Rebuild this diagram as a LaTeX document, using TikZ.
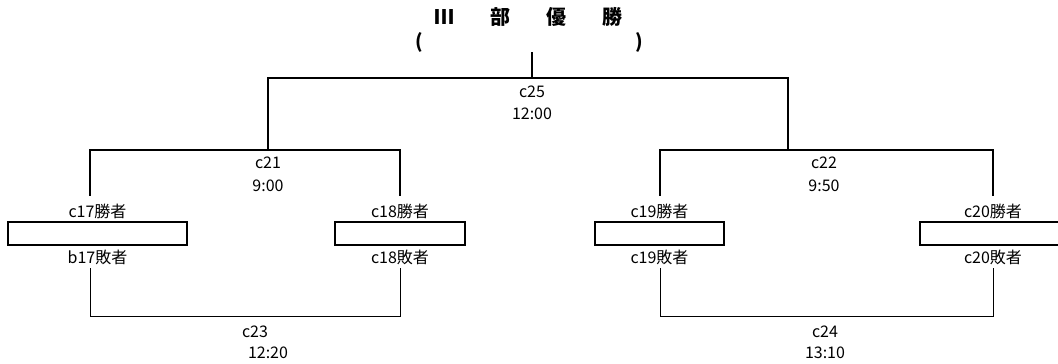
\documentclass[tikz,border=0pt]{standalone}
\usepackage{fontspec}
\setmainfont{Noto Sans CJK JP}
\begin{document}
\begin{tikzpicture}[x=1pt,y=-1pt,
	every node/.style={font=\fontsize{16}{19}\selectfont,inner sep=0pt},
	bracket/.style={line width=1.5pt},
	thinline/.style={line width=0.8pt},
	slot/.style={draw,line width=1.4pt,minimum height=23pt},
	win/.style={label distance=2.5pt},
	lose/.style={label distance=4.5pt}]

	\useasboundingbox (0,0) rectangle (1058,364);

	\node[font=\fontsize{20}{24}\selectfont\bfseries](title) at (528,17) {Ⅲ\hspace{36pt}部\hspace{36pt}優\hspace{36pt}勝};
	\node[font=\fontsize{19}{23}\selectfont\bfseries](winner) at (529,42) {(\hspace{212pt})};

	\coordinate (c25m) at (532,78);
	\coordinate (c25l) at (268,78);
	\coordinate (c25r) at (788,78);
	\coordinate (c21l) at (90,150);
	\coordinate (c21m) at (268,150);
	\coordinate (c21r) at (400,150);
	\coordinate (c22l) at (660,150);
	\coordinate (c22m) at (788,150);
	\coordinate (c22r) at (993,150);
	\coordinate (c23l) at (90,316);
	\coordinate (c23r) at (400,316);
	\coordinate (c24l) at (660,316);
	\coordinate (c24r) at (993,316);

	\node[slot,minimum width=179pt,
		label={[win,name=c17w]above:c17勝者},
		label={[lose,name=c17b]below:b17敗者}](c17) at (97.5,233.5) {};
	\node[slot,minimum width=130pt,
		label={[win,name=c18w]above:c18勝者},
		label={[lose,name=c18b]below:c18敗者}](c18) at (400,233.5) {};
	\node[slot,minimum width=129pt,
		label={[win,name=c19w]above:c19勝者},
		label={[lose,name=c19b]below:c19敗者}](c19) at (659.5,233.5) {};
	\node[slot,minimum width=146pt,
		label={[win,name=c20w]above:c20勝者},
		label={[lose,name=c20b]below:c20敗者}](c20) at (993,233.5) {};

	\node (c25) at (532,92) {c25};
	\node (t25) at (532,114) {12:00};
	\node (c21) at (268,163) {c21};
	\node (t21) at (268,186) {9:00};
	\node (c22) at (824,163) {c22};
	\node (t22) at (824,186) {9:50};
	\node (c23) at (255,332) {c23};
	\node (t23) at (268,353) {12:20};
	\node (c24) at (825,332) {c24};
	\node (t24) at (825,353) {13:10};

	\draw[bracket] (winner.south -| c25m) -- (c25m);
	\draw[bracket] (c21m) -- (c25l) -- (c25r) -- (c22m);
	\draw[bracket,shorten <=8pt,shorten >=8pt] (c17w.north -| c21l) -- (c21l) -- (c21r) -- (c18w.north);
	\draw[bracket,shorten <=8pt,shorten >=8pt] (c19w.north -| c22l) -- (c22l) -- (c22r) -- (c20w.north -| c22r);
	\draw[thinline,shorten <=3pt,shorten >=3pt] (c17b.south -| c23l) -- (c23l) -- (c23r) -- (c18b.south);
	\draw[thinline,shorten <=3pt,shorten >=3pt] (c19b.south -| c24l) -- (c24l) -- (c24r) -- (c20b.south -| c24r);

\end{tikzpicture}
\end{document}
